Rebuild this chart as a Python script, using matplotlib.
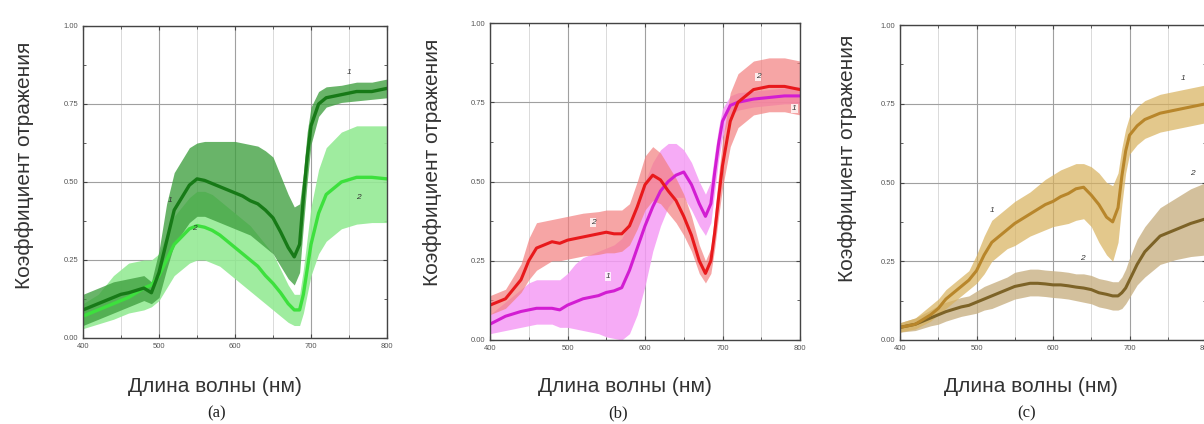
import matplotlib
matplotlib.use("Agg")
import matplotlib.pyplot as plt
from matplotlib.ticker import MultipleLocator, FormatStrFormatter

# ---------------- data ----------------
wl = [400, 420, 440, 450, 460, 480, 490, 500, 510, 520, 540, 550, 560, 570, 580, 590,
      600, 610, 620, 630, 640, 650, 660, 670, 678, 685, 690, 695, 700, 710, 720, 740,
      760, 780, 800]

# panel (a)
a1_mean = [0.09, 0.11, 0.13, 0.14, 0.145, 0.16, 0.145, 0.21, 0.31, 0.41, 0.49, 0.51, 0.505, 0.495, 0.485, 0.475,
           0.465, 0.455, 0.44, 0.43, 0.41, 0.385, 0.34, 0.29, 0.26, 0.30, 0.45, 0.58, 0.68, 0.75, 0.77, 0.78,
           0.79, 0.79, 0.80]
a1_low = [0.04, 0.06, 0.08, 0.09, 0.10, 0.12, 0.11, 0.13, 0.22, 0.30, 0.37, 0.39, 0.39, 0.38, 0.37, 0.36,
          0.35, 0.34, 0.33, 0.31, 0.29, 0.27, 0.23, 0.19, 0.17, 0.21, 0.36, 0.50, 0.62, 0.71, 0.74, 0.755,
          0.76, 0.765, 0.77]
a1_up = [0.14, 0.16, 0.18, 0.185, 0.19, 0.20, 0.18, 0.28, 0.43, 0.53, 0.61, 0.625, 0.63, 0.63, 0.63, 0.63,
         0.63, 0.625, 0.62, 0.615, 0.60, 0.58, 0.52, 0.46, 0.42, 0.43, 0.53, 0.66, 0.74, 0.79, 0.805, 0.81,
         0.82, 0.82, 0.83]
a2_mean = [0.07, 0.09, 0.11, 0.12, 0.13, 0.16, 0.17, 0.20, 0.25, 0.30, 0.35, 0.36, 0.355, 0.345, 0.33, 0.31,
           0.29, 0.27, 0.25, 0.23, 0.20, 0.175, 0.145, 0.11, 0.09, 0.09, 0.14, 0.22, 0.30, 0.40, 0.46, 0.50,
           0.515, 0.515, 0.51]
a2_low = [0.03, 0.045, 0.06, 0.07, 0.08, 0.09, 0.10, 0.12, 0.16, 0.20, 0.24, 0.25, 0.25, 0.24, 0.23, 0.21,
          0.19, 0.17, 0.15, 0.13, 0.11, 0.09, 0.07, 0.05, 0.04, 0.04, 0.08, 0.14, 0.20, 0.27, 0.31, 0.35,
          0.365, 0.37, 0.37]
a2_up = [0.11, 0.14, 0.20, 0.22, 0.24, 0.25, 0.25, 0.27, 0.33, 0.39, 0.45, 0.47, 0.47, 0.46, 0.44, 0.42,
         0.40, 0.38, 0.36, 0.33, 0.30, 0.27, 0.22, 0.17, 0.14, 0.14, 0.22, 0.32, 0.42, 0.54, 0.61, 0.66,
         0.68, 0.68, 0.68]

# panel (b)
b1_mean = [0.05, 0.075, 0.09, 0.095, 0.10, 0.10, 0.095, 0.11, 0.12, 0.13, 0.14, 0.15, 0.155, 0.165, 0.22, 0.29,
           0.36, 0.42, 0.47, 0.50, 0.52, 0.53, 0.49, 0.43, 0.39, 0.43, 0.53, 0.62, 0.69, 0.74, 0.75, 0.76,
           0.765, 0.77, 0.77]
b1_low = [0.02, 0.03, 0.04, 0.045, 0.05, 0.05, 0.04, 0.04, 0.035, 0.03, 0.02, 0.01, 0.005, 0.0, 0.02, 0.08,
          0.17, 0.28, 0.36, 0.42, 0.45, 0.45, 0.41, 0.36, 0.33, 0.37, 0.47, 0.57, 0.64, 0.71, 0.725, 0.735,
          0.74, 0.745, 0.745]
b1_up = [0.08, 0.12, 0.16, 0.18, 0.19, 0.19, 0.19, 0.21, 0.24, 0.26, 0.28, 0.29, 0.30, 0.32, 0.37, 0.43,
         0.50, 0.56, 0.60, 0.62, 0.62, 0.60, 0.56, 0.50, 0.46, 0.50, 0.59, 0.67, 0.73, 0.77, 0.78, 0.785,
         0.79, 0.795, 0.80]
b2_mean = [0.11, 0.13, 0.19, 0.25, 0.29, 0.31, 0.305, 0.315, 0.32, 0.325, 0.335, 0.34, 0.335, 0.335, 0.36, 0.42,
           0.49, 0.52, 0.505, 0.47, 0.44, 0.39, 0.33, 0.25, 0.21, 0.25, 0.34, 0.45, 0.55, 0.69, 0.75, 0.79,
           0.80, 0.80, 0.79]
b2_low = [0.08, 0.10, 0.15, 0.19, 0.22, 0.25, 0.25, 0.255, 0.26, 0.265, 0.27, 0.275, 0.275, 0.28, 0.30, 0.35,
          0.41, 0.44, 0.43, 0.40, 0.37, 0.33, 0.28, 0.21, 0.18, 0.21, 0.29, 0.39, 0.48, 0.61, 0.67, 0.71,
          0.72, 0.72, 0.71]
b2_up = [0.14, 0.16, 0.24, 0.32, 0.37, 0.38, 0.385, 0.39, 0.395, 0.40, 0.405, 0.41, 0.41, 0.41, 0.43, 0.50,
         0.58, 0.61, 0.59, 0.55, 0.51, 0.46, 0.39, 0.30, 0.25, 0.29, 0.40, 0.52, 0.63, 0.78, 0.84, 0.88,
         0.89, 0.89, 0.88]

# panel (c)
c1_mean = [0.04, 0.05, 0.08, 0.10, 0.13, 0.17, 0.19, 0.22, 0.27, 0.31, 0.35, 0.37, 0.385, 0.40, 0.415, 0.43,
           0.44, 0.455, 0.465, 0.48, 0.485, 0.46, 0.43, 0.39, 0.375, 0.42, 0.52, 0.60, 0.65, 0.68, 0.70, 0.72,
           0.73, 0.74, 0.75]
c1_low = [0.025, 0.035, 0.06, 0.08, 0.10, 0.14, 0.16, 0.18, 0.21, 0.25, 0.29, 0.30, 0.315, 0.33, 0.34, 0.35,
          0.36, 0.365, 0.37, 0.38, 0.385, 0.36, 0.31, 0.27, 0.25, 0.31, 0.43, 0.53, 0.59, 0.62, 0.64, 0.66,
          0.67, 0.68, 0.69]
c1_up = [0.055, 0.07, 0.11, 0.13, 0.16, 0.20, 0.22, 0.27, 0.33, 0.38, 0.42, 0.44, 0.455, 0.47, 0.49, 0.51,
         0.525, 0.54, 0.55, 0.56, 0.56, 0.55, 0.53, 0.50, 0.49, 0.53, 0.61, 0.67, 0.71, 0.74, 0.76, 0.78,
         0.79, 0.80, 0.81]
c2_mean = [0.04, 0.05, 0.07, 0.08, 0.09, 0.105, 0.11, 0.12, 0.13, 0.14, 0.16, 0.17, 0.175, 0.18, 0.18, 0.178,
           0.175, 0.175, 0.172, 0.168, 0.165, 0.16, 0.15, 0.145, 0.14, 0.14, 0.15, 0.165, 0.19, 0.24, 0.28, 0.33,
           0.35, 0.37, 0.385]
c2_low = [0.025, 0.03, 0.045, 0.05, 0.06, 0.075, 0.08, 0.085, 0.095, 0.10, 0.12, 0.13, 0.135, 0.14, 0.14, 0.138,
          0.135, 0.133, 0.13, 0.125, 0.12, 0.115, 0.105, 0.10, 0.095, 0.095, 0.10, 0.115, 0.135, 0.175, 0.20, 0.24,
          0.255, 0.265, 0.27]
c2_up = [0.055, 0.07, 0.095, 0.11, 0.12, 0.135, 0.14, 0.155, 0.17, 0.18, 0.20, 0.215, 0.22, 0.225, 0.225, 0.222,
         0.22, 0.218, 0.215, 0.21, 0.21, 0.205, 0.195, 0.19, 0.185, 0.185, 0.20, 0.225, 0.26, 0.32, 0.36, 0.42,
         0.45, 0.48, 0.50]

x_ticks = [400, 500, 600, 700, 800]
y_ticks = [0.00, 0.25, 0.50, 0.75, 1.00]
ylabel_text = "Коэффициент отражения"
xlabel_text = "Длина волны (нм)"
panel_labels = ["(a)", "(b)", "(c)"]

# ---------------- figure ----------------
W, H = 1204, 424
fig = plt.figure(figsize=(W / 100, H / 100), dpi=100)
plt.rcParams['font.family'] = ['Liberation Sans', 'DejaVu Sans']


def px_axes(l, t, r, b):
    return fig.add_axes([l / W, 1 - b / H, (r - l) / W, (b - t) / H])


axa = px_axes(83, 26, 387, 338)
axb = px_axes(490, 23, 800, 340)
axc = px_axes(900, 25, 1206, 340)


def style(ax):
    ax.set_xlim(400, 800)
    ax.set_ylim(0, 1)
    ax.set_xticks(x_ticks)
    ax.set_yticks(y_ticks)
    ax.xaxis.set_minor_locator(MultipleLocator(50))
    ax.yaxis.set_minor_locator(MultipleLocator(0.125))
    ax.yaxis.set_major_formatter(FormatStrFormatter('%.2f'))
    ax.tick_params(which='both', direction='in', top=True, right=True, labelsize=5.5,
                   labelcolor='#555555', color='#444444')
    ax.tick_params(which='major', length=3, width=0.8)
    ax.tick_params(which='minor', length=2, width=0.6)
    ax.grid(which='major', color='#a0a0a0', lw=0.8)
    ax.grid(which='minor', axis='x', color='#d5d5d5', lw=0.6)
    ax.set_axisbelow(True)
    for s in ax.spines.values():
        s.set_color('#444444')
        s.set_linewidth(1.0)


for ax in (axa, axb, axc):
    style(ax)

# panel a
axa.fill_between(wl, a2_low, a2_up, color='#95ea95', alpha=0.9, lw=0)
axa.fill_between(wl, a1_low, a1_up, color='#3f9f3f', alpha=0.78, lw=0)
axa.plot(wl, a2_mean, color='#3de03d', lw=2.4)
axa.plot(wl, a1_mean, color='#177a17', lw=2.4)

# panel b
axb.fill_between(wl, b1_low, b1_up, color='#f59cf5', alpha=0.85, lw=0)
axb.fill_between(wl, b2_low, b2_up, color='#f37f7f', alpha=0.7, lw=0)
axb.plot(wl, b1_mean, color='#d21dd2', lw=2.2)
axb.plot(wl, b2_mean, color='#e8191c', lw=2.2)

# panel c
axc.fill_between(wl, c2_low, c2_up, color='#c9b184', alpha=0.8, lw=0)
axc.fill_between(wl, c1_low, c1_up, color='#d8b15c', alpha=0.7, lw=0)
axc.plot(wl, c2_mean, color='#7d6327', lw=2.2)
axc.plot(wl, c1_mean, color='#b8862b', lw=2.2)

# curve numbers
num_kw = dict(fontsize=6, style='italic', color='#333333', ha='center', va='center')
axa.text(514, 0.44, "1", **num_kw)
axa.text(750, 0.85, "1", **num_kw)
axa.text(547, 0.35, "2", **num_kw)
axa.text(762, 0.45, "2", **num_kw)
box = dict(boxstyle='square,pad=0.1', fc='white', ec='none', alpha=0.8)
axb.text(533, 0.37, "2", bbox=box, **num_kw)
axb.text(746, 0.83, "2", bbox=box, **num_kw)
axb.text(552, 0.20, "1", bbox=box, **num_kw)
axb.text(793, 0.73, "1", bbox=box, **num_kw)
axc.text(521, 0.41, "1", **num_kw)
axc.text(770, 0.83, "1", **num_kw)
axc.text(638, 0.26, "2", **num_kw)
axc.text(782, 0.53, "2", **num_kw)

# axis labels
for xc, yc in [(25, 165), (433, 162), (848, 158)]:
    fig.text(xc / W, 1 - yc / H, ylabel_text, rotation=90, ha='center', va='center',
             fontsize=15, color='#333333')
for xc in [215, 625, 1031]:
    fig.text(xc / W, 1 - 386 / H, xlabel_text, ha='center', va='center',
             fontsize=15, color='#333333')
for xc, lab in zip([217, 618, 1027], panel_labels):
    fig.text(xc / W, 1 - 413 / H, lab, ha='center', va='center', fontsize=12,
             family=['Liberation Serif', 'DejaVu Serif'], color='#222222')

fig.savefig("out.png", dpi=100)
